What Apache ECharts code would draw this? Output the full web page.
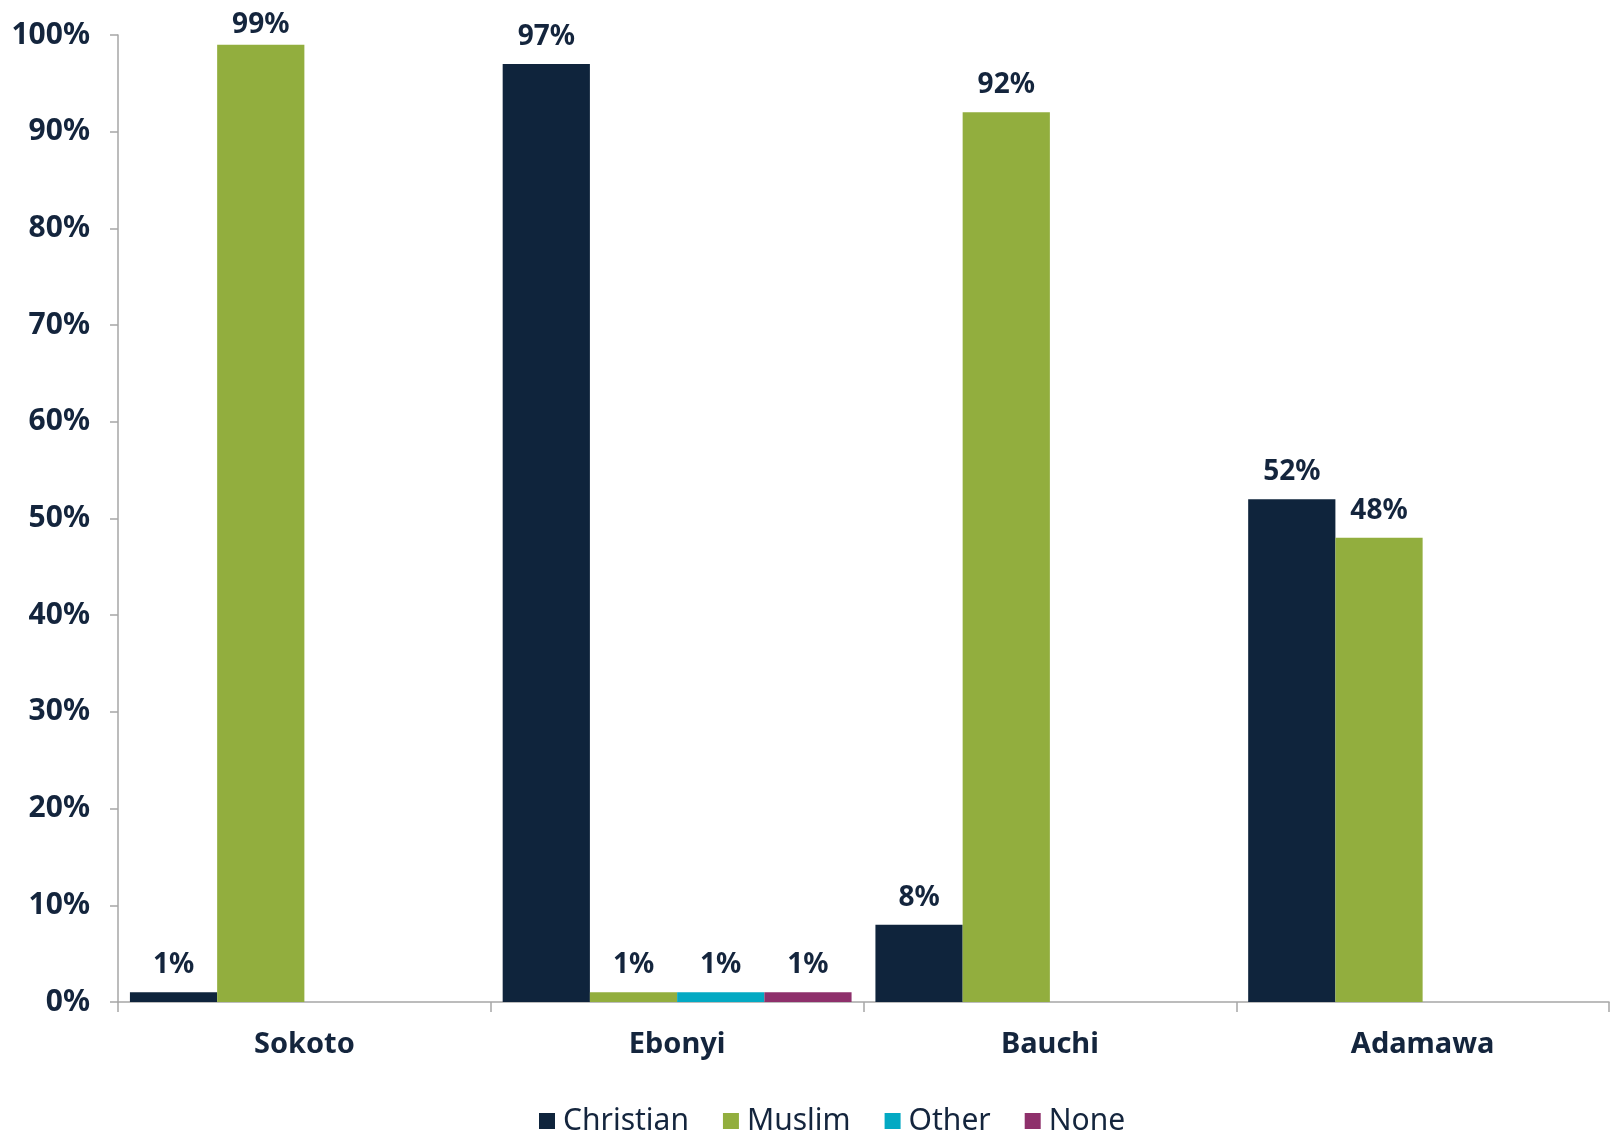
<!DOCTYPE html>
<html>
<head>
<meta charset="utf-8">
<script src="https://cdn.jsdelivr.net/npm/echarts@6/dist/echarts.min.js"></script>
<style>html,body{margin:0;padding:0;background:#fff;}#c{width:1612px;height:1135px;}</style>
</head>
<body>
<div id="c"></div>
<script>
const categories = ['Sokoto', 'Ebonyi', 'Bauchi', 'Adamawa'];
const christian = [1, 97, 8, 52];
const muslim = [99, 1, 92, 48];
const other = [null, 1, null, null];
const none = [null, 1, null, null];
const yTicks = [0, 10, 20, 30, 40, 50, 60, 70, 80, 90, 100];

const textColor = '#14253d';
const font = '"Noto Sans", "DejaVu Sans", sans-serif';
const chart = echarts.init(document.getElementById('c'), null, {renderer: 'canvas'});

function mk(name, data, color) {
  return {
    name: name, type: 'bar',
    // labels near the top of the plot sit a little closer to the bar
    data: data.map(v => (v !== null && v > 98) ? {value: v, label: {distance: 6}} : v),
    barGap: '0%', barCategoryGap: '6.4%',
    itemStyle: {color: color},
    label: {
      show: true, position: 'top', distance: 13,
      formatter: p => p.value + '%',
      color: textColor, fontWeight: 'bold', fontSize: 28, fontFamily: font
    }
  };
}

chart.setOption({
  animation: false,
  backgroundColor: '#fff',
  grid: {left: 118, right: 3, top: 35, bottom: 133, containLabel: false},
  legend: {
    top: 1106, left: 539, padding: 0,
    itemWidth: 16, itemHeight: 16, itemGap: 34,
    icon: 'rect',
    textStyle: {color: textColor, fontSize: 30, fontFamily: font, padding: [0, 0, 0, 3]},
    data: ['Christian', 'Muslim', 'Other', 'None']
  },
  xAxis: {
    type: 'category', data: categories,
    axisLine: {lineStyle: {color: '#a6a6a6', width: 1.5}},
    axisTick: {show: true, length: 10, lineStyle: {color: '#a6a6a6', width: 1.5}},
    axisLabel: {color: textColor, fontWeight: 'bold', fontSize: 29, fontFamily: font, margin: 28}
  },
  yAxis: {
    type: 'value', min: 0, max: 100, interval: 10,
    axisLine: {show: true, lineStyle: {color: '#a6a6a6', width: 1.5}},
    axisTick: {show: true, length: 8, lineStyle: {color: '#a6a6a6', width: 1.5}},
    splitLine: {show: false},
    axisLabel: {color: textColor, fontWeight: 'bold', fontSize: 30, fontFamily: font, margin: 28,
      formatter: v => yTicks.includes(v) ? v + '%' : ''}
  },
  series: [
    mk('Christian', christian, '#0f243c'),
    mk('Muslim', muslim, '#92ae3e'),
    mk('Other', other, '#03a9c3'),
    mk('None', none, '#8e306b')
  ]
});
</script>
</body>
</html>
